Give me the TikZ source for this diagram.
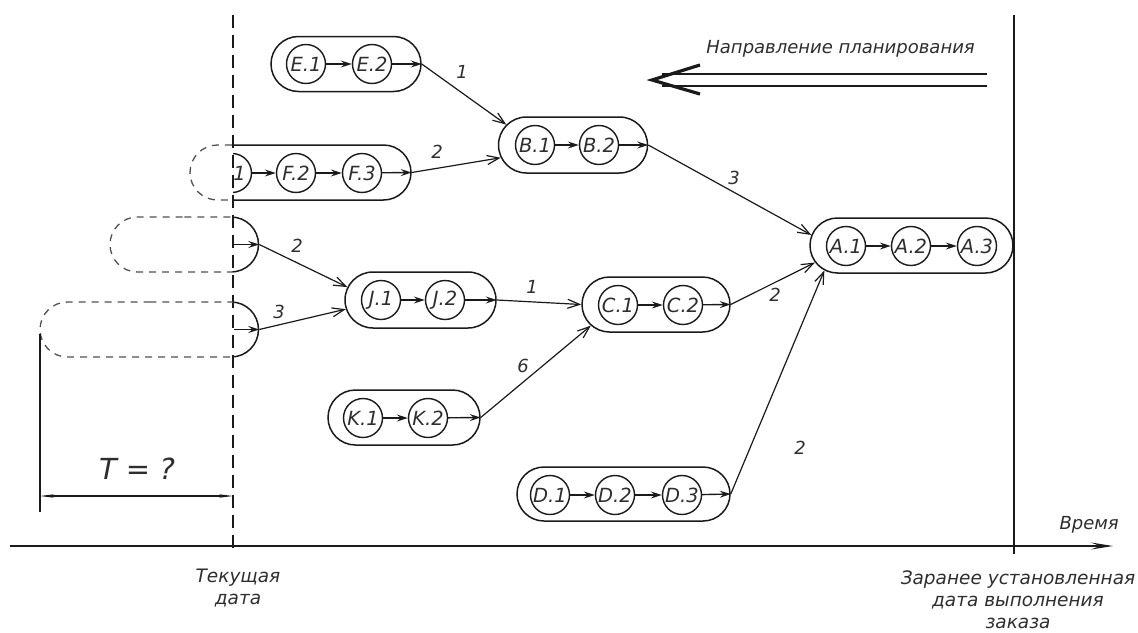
\documentclass[tikz,border=0pt]{standalone}
\usepackage{fontspec}
\setmainfont{DejaVu Sans}
\usetikzlibrary{arrows.meta,shapes.misc,calc}
\definecolor{ink}{HTML}{1A1A1A}
\definecolor{txt}{HTML}{2E2E2E}
\definecolor{ghost}{HTML}{505050}
\tikzset{
  capsule/.style={rounded rectangle, draw=ink, line width=1.5pt, inner sep=0pt},
  ghostcap/.style={rounded rectangle, draw=ghost, line width=1.3pt, dash pattern=on 7pt off 6pt, inner sep=0pt},
  opbox/.style={circle, draw=ink, line width=1.4pt, minimum size=39pt, inner sep=0pt,
    font=\fontsize{19.5}{19.5}\selectfont\itshape, text=txt},
  inarrow/.style={ink, line width=1.4pt, -{Stealth[length=11pt,width=7pt,inset=4pt]}},
  link/.style={ink, line width=1.2pt, -{Straight Barb[length=12pt,width=9pt,line width=1.2pt]}},
  lbl/.style={font=\fontsize{18}{18}\selectfont\itshape, text=txt, inner sep=0pt},
  caption/.style={font=\fontsize{18.5}{22}\selectfont\itshape, text=txt, align=center, inner sep=0pt}
}
\begin{document}
\begin{tikzpicture}[x=1pt,y=-1pt]
\useasboundingbox (0,0) rectangle (1138,632);

% ---------- time axis and the two dates ----------
\coordinate (ax0) at (10,546);
\coordinate (ax1) at (1113,546);
\draw[ink, line width=2.2pt, -{Stealth[length=22pt,width=7pt,inset=9pt]}] (ax0) -- (ax1);
\node[lbl, anchor=south east] (time) at (1119,533) {Время};

\coordinate (now0) at (233,15);
\coordinate (now1) at (233,554);
\draw[ink, line width=2.8pt, dash pattern=on 13pt off 7pt] (now0) -- (now1);
\coordinate (due0) at (1014,15);
\coordinate (due1) at (1014,554);
\draw[ink, line width=2.2pt] (due0) -- (due1);

\node[caption] (nowtxt) at (238,588) {Текущая\\дата};
\node[caption] (duetxt) at (1018,600) {Заранее установленная\\дата выполнения\\заказа};

% ---------- planning direction ----------
\node[lbl, anchor=base east, font=\fontsize{18}{18}\selectfont\itshape] (plan) at (975,53) {Направление планирования};
\coordinate (pl0) at (987,80);
\coordinate (pl1) at (652,80);
\draw[ink, line width=2pt] ($(pl0)+(0,-6)$) -- ($(pl1)+(10,-6)$);
\draw[ink, line width=2pt] ($(pl0)+(0,6)$) -- ($(pl1)+(10,6)$);
\draw[ink, line width=3.2pt, line join=miter] ($(pl1)+(48,-15)$) -- (pl1) -- ($(pl1)+(48,14)$);

% ---------- capsules ----------
\node[capsule, minimum width=150pt, minimum height=55pt] (E) at (346,64) {};
\node[opbox] (E1) at (306,64) {E.1};
\node[opbox] (E2) at (372,64) {E.2};

% F: only the part right of the current date is real
\begin{scope}
  \clip (233,0) rectangle (1138,632);
  \node[capsule, minimum width=221pt, minimum height=55pt] (F) at (300.5,172.5) {};
  \node[opbox] (F1) at (232,173) {F.1};
\end{scope}
\begin{scope}
  \clip (0,0) rectangle (233,632);
  \node[ghostcap, minimum width=221pt, minimum height=55pt] (Fg) at (300.5,172.5) {};
\end{scope}
\node[opbox] (F2) at (296,173) {F.2};
\node[opbox] (F3) at (362,173) {F.3};

% two orders that would have had to start in the past
\begin{scope}
  \clip (233,0) rectangle (1138,632);
  \node[capsule, minimum width=148.5pt, minimum height=55pt] (P) at (184.25,244.5) {};
  \node[capsule, minimum width=218.5pt, minimum height=55pt] (Q) at (149.25,329.5) {};
\end{scope}
\begin{scope}
  \clip (0,0) rectangle (233,632);
  \node[ghostcap, minimum width=148.5pt, minimum height=55pt] (Pg) at (184.25,244.5) {};
  \node[ghostcap, minimum width=218.5pt, minimum height=55pt] (Qg) at (149.25,329.5) {};
\end{scope}
\coordinate (Pin) at (234,244.5);
\coordinate (Qin) at (234,329.5);

\node[capsule, minimum width=149pt, minimum height=56pt] (B) at (573,145) {};
\node[opbox] (B1) at (535,145) {B.1};
\node[opbox] (B2) at (599,145) {B.2};

\node[capsule, minimum width=203pt, minimum height=55pt] (A) at (911.5,245.5) {};
\node[opbox] (A1) at (846,246) {A.1};
\node[opbox] (A2) at (911,246) {A.2};
\node[opbox] (A3) at (977,246) {A.3};

\node[capsule, minimum width=151pt, minimum height=56pt] (J) at (420.5,300) {};
\node[opbox] (J1) at (381,300) {J.1};
\node[opbox] (J2) at (445,300) {J.2};

\node[capsule, minimum width=148pt, minimum height=55pt] (C) at (656,304.5) {};
\node[opbox] (C1) at (618,305) {C.1};
\node[opbox] (C2) at (683,305) {C.2};

\node[capsule, minimum width=152pt, minimum height=55pt] (K) at (404,417.5) {};
\node[opbox] (K1) at (363,418) {K.1};
\node[opbox] (K2) at (428,418) {K.2};

\node[capsule, minimum width=213pt, minimum height=54pt] (D) at (623.5,494) {};
\node[opbox] (D1) at (550,495) {D.1};
\node[opbox] (D2) at (615,495) {D.2};
\node[opbox] (D3) at (682,495) {D.3};

% ---------- operation sequence inside each capsule ----------
\draw[inarrow] (E1) -- (E2);
\draw[inarrow] (E2) -- (E.east);
\draw[inarrow] (F1) -- (F2);
\draw[inarrow] (F2) -- (F3);
\draw[inarrow] (F3) -- (F.east);
\draw[inarrow] (Pin) -- (P.east);
\draw[inarrow] (Qin) -- (Q.east);
\draw[inarrow] (B1) -- (B2);
\draw[inarrow] (B2) -- (B.east);
\draw[inarrow] (A1) -- (A2);
\draw[inarrow] (A2) -- (A3);
\draw[inarrow] (J1) -- (J2);
\draw[inarrow] (J2) -- (J.east);
\draw[inarrow] (C1) -- (C2);
\draw[inarrow] (C2) -- (C.east);
\draw[inarrow] (K1) -- (K2);
\draw[inarrow] (K2) -- (K.east);
\draw[inarrow] (D1) -- (D2);
\draw[inarrow] (D2) -- (D3);
\draw[inarrow] (D3) -- (D.east);

% ---------- links between orders, with lead times ----------
\draw[link] (E.east) -- (B.163);
\draw[link] (F.east) -- (B.190);
\draw[link] (B.east) -- (A.174);
\draw[link] (P.east) -- (J.170);
\draw[link] (Q.east) -- (J.187);
\draw[link] (J.east) -- (C.west);
\draw[link] (K.east) -- (C.198);
\draw[link] (C.east) -- (A.190);
\draw[link] (D.east) -- (A.196);

\node[lbl] (tEB) at (462,72) {1};
\node[lbl] (tFB) at (437,152) {2};
\node[lbl] (tBA) at (734,178) {3};
\node[lbl] (tPJ) at (297,246) {2};
\node[lbl] (tQJ) at (279,312) {3};
\node[lbl] (tJC) at (532,287) {1};
\node[lbl] (tKC) at (523,366) {6};
\node[lbl] (tCA) at (775,295) {2};
\node[lbl] (tDA) at (800,448) {2};

% ---------- unknown lead time T ----------
\coordinate (T0) at (40,496);
\coordinate (T1) at (233,496);
\draw[ink, line width=1.1pt] (40,334) -- (40,512);
\draw[ink, line width=1.1pt, {Stealth[length=14pt,width=3.5pt]}-{Stealth[length=14pt,width=3.5pt]}] (T0) -- (T1);
\node[lbl, font=\fontsize{29}{29}\selectfont\itshape] (Tq) at (137,469) {T = ?};
\end{tikzpicture}
\end{document}
